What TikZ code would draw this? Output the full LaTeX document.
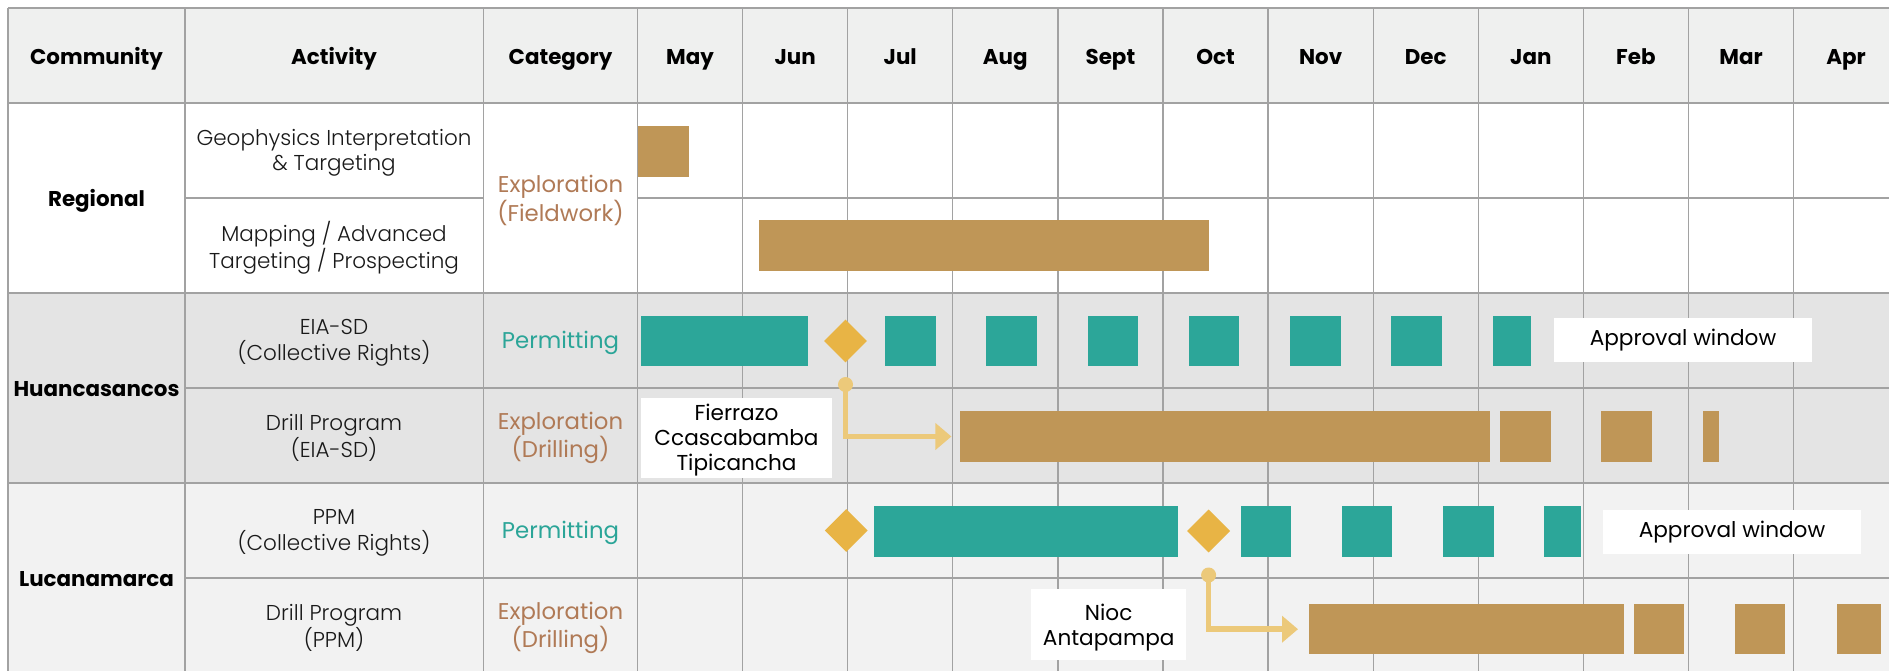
\documentclass[tikz,border=0pt]{standalone}
\usepackage{fontspec}
\setmainfont{Poppins}
\IfFontExistsTF{Poppins Light}{\newfontfamily\thinfont{Poppins Light}}{\newfontfamily\thinfont{Poppins}}
\usetikzlibrary{shapes.geometric,arrows.meta}
\definecolor{goldbar}{RGB}{191,150,87}
\definecolor{tealbar}{RGB}{44,166,153}
\definecolor{milegold}{RGB}{232,180,69}
\definecolor{linkgold}{RGB}{236,201,122}
\definecolor{catbrown}{RGB}{176,122,86}
\definecolor{catteal}{RGB}{43,165,152}
\definecolor{hdrfill}{RGB}{239,240,239}
\definecolor{huafill}{RGB}{228,228,228}
\definecolor{lucfill}{RGB}{242,242,242}
\definecolor{gridgray}{RGB}{162,162,162}

\begin{document}
\begin{tikzpicture}[x=1pt,y=-1pt,
	hdr/.style={font=\fontsize{21.4}{25}\selectfont\bfseries, text=black, text height=15pt, text depth=0pt},
	comm/.style={font=\fontsize{21.4}{25}\selectfont\bfseries, text=black, text height=15pt, text depth=0pt},
	cell/.style={font=\thinfont\fontsize{21.5}{25.5}\selectfont, align=center, text=black!90, yshift=-2.5pt},
	catexp/.style={font=\fontsize{22.8}{25.5}\selectfont, align=center, text=catbrown, yshift=-2.5pt},
	catperm/.style={font=\fontsize{22.8}{25.5}\selectfont, align=center, text=catteal, yshift=-2.5pt},
	bargold/.style={rectangle, fill=goldbar, inner sep=0pt, minimum height=50.5pt, anchor=west},
	barteal/.style={rectangle, fill=tealbar, inner sep=0pt, minimum height=50.5pt, anchor=west},
	milestone/.style={diamond, fill=milegold, inner sep=0pt, minimum width=43pt, minimum height=43pt},
	callout/.style={rectangle, fill=white, inner sep=0pt, align=center, font=\fontsize{21.6}{25}\selectfont, text=black},
	linkdot/.style={circle, fill=linkgold, inner sep=0pt, minimum size=15pt},
	conn/.style={draw=linkgold, line width=5.5pt, -{Triangle[length=16pt,width=26pt]}},
	gridline/.style={draw=gridgray, line width=1.3pt}]

	\useasboundingbox (0,0) rectangle (1889,670);
	\clip (0,0) rectangle (1889,670);

	% row backgrounds
	\fill[white] (0,0) rectangle (1889,670);
	\fill[hdrfill] (8,8) rectangle (1889,103);
	\fill[huafill] (8,293) rectangle (1889,483);
	\fill[lucfill] (8,483) rectangle (1889,673);

	% grid
	\draw[gridline] (8,8) -- (1889,8);
	\draw[gridline] (8,103) -- (1889,103);
	\draw[gridline] (185,198) -- (483.5,198);
	\draw[gridline] (637.5,198) -- (1889,198);
	\draw[gridline] (8,293) -- (1889,293);
	\draw[gridline] (185,388) -- (1889,388);
	\draw[gridline] (8,483) -- (1889,483);
	\draw[gridline] (185,578) -- (1889,578);
	\foreach \x in {8,185,483.5,637.5}
		\draw[gridline] (\x,8) -- (\x,673);
	\foreach \i in {1,...,11}
		\draw[gridline] ({637.5+105.1*\i},8) -- ({637.5+105.1*\i},673);

	% header
	\node[hdr] (hcomm) at (96.5,56.5) {Community};
	\node[hdr] (hact) at (334,56.5) {Activity};
	\node[hdr] (hcat) at (560.5,56.5) {Category};
	\foreach \m [count=\i from 0] in {May,Jun,Jul,Aug,Sept,Oct,Nov,Dec,Jan,Feb,Mar,Apr}
		\node[hdr] (mon\i) at ({637.5+105.1*\i+52.5},56.5) {\m};

	% communities
	\node[comm] (regional) at (96.5,199) {Regional};
	\node[comm] (huanca) at (96.5,389) {Huancasancos};
	\node[comm] (lucana) at (96.5,579) {Lucanamarca};

	% activities
	\node[cell] (actgeo) at (334,150.5) {Geophysics Interpretation\\\& Targeting};
	\node[cell] (actmap) at (334,245.5) {Mapping / Advanced\\Targeting / Prospecting};
	\node[cell] (acteia) at (334,340.5) {EIA-SD\\(Collective Rights)};
	\node[cell] (actdrh) at (334,435.5) {Drill Program\\(EIA-SD)};
	\node[cell] (actppm) at (334,530.5) {PPM\\(Collective Rights)};
	\node[cell] (actdrl) at (334,625.5) {Drill Program\\(PPM)};

	% categories
	\node[catexp] (catreg) at (560.5,198) {Exploration\\(Fieldwork)};
	\node[catperm] (cateia) at (560.5,340.5) {Permitting};
	\node[catexp] (catdrh) at (560.5,435.5) {Exploration\\(Drilling)};
	\node[catperm] (catppm) at (560.5,530.5) {Permitting};
	\node[catexp] (catdrl) at (560.5,625.5) {Exploration\\(Drilling)};

	% Regional bars
	\node[bargold, minimum width=50.4pt] (geo1) at (638,151.5) {};
	\node[bargold, minimum width=449.5pt] (map1) at (759,245.5) {};

	% Huancasancos, EIA-SD
	\node[barteal, minimum width=167pt] (eia0) at (641,341) {};
	\node[milestone] (eiams) at (845.5,341) {};
	\foreach \k in {0,...,5}
		\node[barteal, minimum width=50.5pt] (eia\k sq) at ({885+101.2*\k},341) {};
	\node[barteal, minimum width=38.5pt] (eia6sq) at (1492.3,341) {};
	\node[callout, minimum width=258pt, minimum height=43.7pt] (apprh) at (1683,340) {\raisebox{-5pt}{Approval window}};

	% Huancasancos, drill program
	\node[bargold, minimum width=530.2pt] (drh1) at (959.4,436.5) {};
	\node[bargold, minimum width=51pt] (drh2) at (1499.4,436.5) {};
	\node[bargold, minimum width=50.5pt] (drh3) at (1600.9,436.5) {};
	\node[bargold, minimum width=16.7pt] (drh4) at (1702.3,436.5) {};
	\node[callout, minimum width=191pt, minimum height=80pt, text depth=1pt] (fierr) at (736.5,437.7) {Fierrazo\\Ccascabamba\\Tipicancha};
	\node[linkdot] (doth) at (845.5,384.5) {};
	\draw[conn, shorten >=8pt] (doth.center) |- (drh1.west);

	% Lucanamarca, PPM
	\node[milestone] (ppmms1) at (846.3,530.5) {};
	\node[barteal, minimum width=304.3pt] (ppm0) at (873.4,531.3) {};
	\node[milestone] (ppmms2) at (1208.6,531) {};
	\foreach \k in {0,...,2}
		\node[barteal, minimum width=50.5pt] (ppm\k sq) at ({1240.4+101.2*\k},531.3) {};
	\node[barteal, minimum width=37pt] (ppm3sq) at (1544,531.3) {};
	\node[callout, minimum width=258pt, minimum height=43.7pt] (apprl) at (1732,531.9) {\raisebox{-5pt}{Approval window}};

	% Lucanamarca, drill program
	\node[bargold, minimum width=315pt] (drl1) at (1309,629.2) {};
	\node[bargold, minimum width=50.2pt] (drl2) at (1633.8,629.2) {};
	\node[bargold, minimum width=50.3pt] (drl3) at (1734.7,629.2) {};
	\node[bargold, minimum width=43.7pt] (drl4) at (1836.7,629.2) {};
	\node[callout, minimum width=155.5pt, minimum height=70.7pt, text depth=-4pt] (nioc) at (1108.7,624.3) {Nioc\\Antapampa};
	\node[linkdot] (dotl) at (1208.6,575) {};
	\draw[conn, shorten >=11pt] (dotl.center) |- (drl1.west);
\end{tikzpicture}
\end{document}
